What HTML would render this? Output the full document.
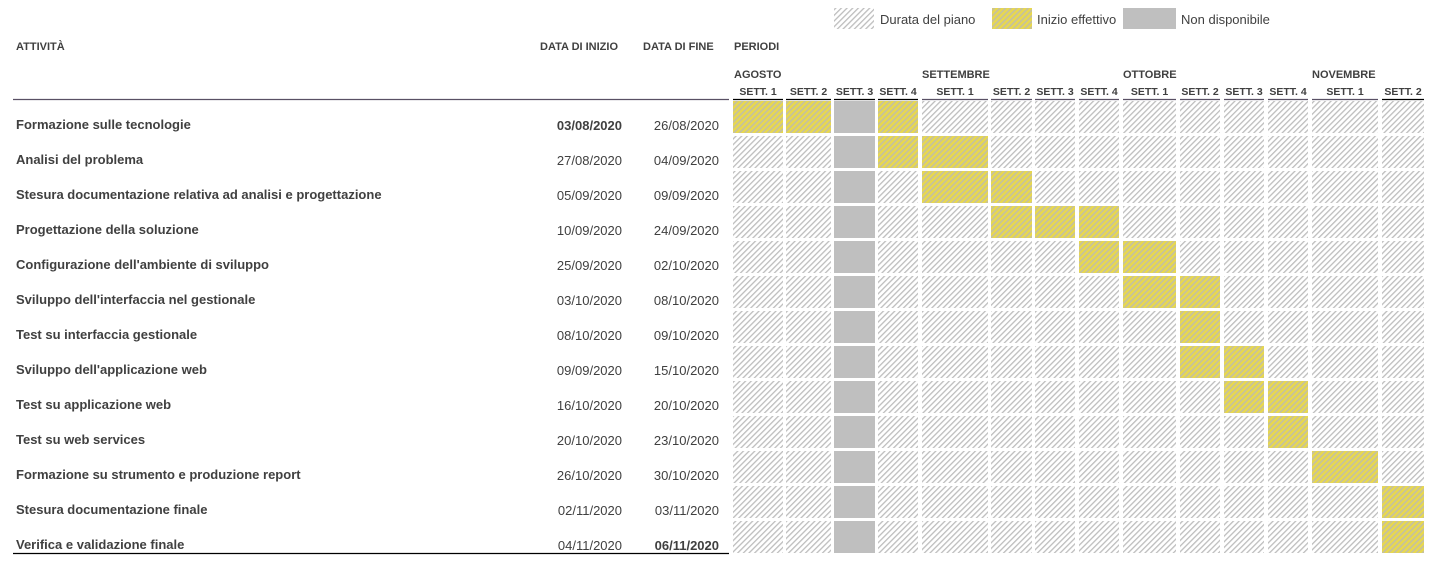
<!DOCTYPE html>
<html><head><meta charset="utf-8"><style>
body{margin:0;background:#fff;width:1432px;height:562px;overflow:hidden;font-family:"Liberation Sans",sans-serif;}
svg text{font-family:"Liberation Sans",sans-serif;fill:#404040;}
</style></head><body>
<svg id="g" width="1432" height="562" xmlns="http://www.w3.org/2000/svg">
<defs>
<pattern id="hatch" width="4" height="4" patternUnits="userSpaceOnUse" patternTransform="rotate(45)">
<rect width="4" height="4" fill="#fff"/><rect width="1.3" height="4" fill="#bdbdbd"/></pattern>
<pattern id="yel" width="4" height="4" patternUnits="userSpaceOnUse" patternTransform="rotate(45)">
<rect width="4" height="4" fill="#e8d84e"/><rect width="1.6" height="4" fill="#c4c0a0"/></pattern>
</defs>
<g>
<rect x="834" y="8" width="40" height="21" fill="url(#hatch)"/>
<text x="880" y="24" font-size="13">Durata del piano</text>
<rect x="992" y="8" width="40" height="21" fill="url(#yel)"/>
<text x="1037" y="24" font-size="13">Inizio effettivo</text>
<rect x="1123" y="8" width="53" height="21" fill="#bfbfbf"/>
<text x="1181" y="24" font-size="13">Non disponibile</text>
</g>
<g font-size="11" font-weight="bold">
<text x="16" y="50">ATTIVITÀ</text>
<text x="540" y="50">DATA DI INIZIO</text>
<text x="643" y="50">DATA DI FINE</text>
<text x="734" y="50">PERIODI</text>
<text x="734" y="78">AGOSTO</text>
<text x="922" y="78">SETTEMBRE</text>
<text x="1123" y="78">OTTOBRE</text>
<text x="1312" y="78">NOVEMBRE</text>
</g>
<line x1="13" y1="99.5" x2="729" y2="99.5" stroke="#595064" stroke-width="1.2"/>
<line x1="13" y1="553.5" x2="729" y2="553.5" stroke="#000" stroke-width="1.2"/>
<g id="grid"></g>
</svg>
<script>
const activities=["Formazione sulle tecnologie","Analisi del problema","Stesura documentazione relativa ad analisi e progettazione","Progettazione della soluzione","Configurazione dell'ambiente di sviluppo","Sviluppo dell'interfaccia nel gestionale","Test su interfaccia gestionale","Sviluppo dell'applicazione web","Test su applicazione web","Test su web services","Formazione su strumento e produzione report","Stesura documentazione finale","Verifica e validazione finale"];
const startDates=["03/08/2020","27/08/2020","05/09/2020","10/09/2020","25/09/2020","03/10/2020","08/10/2020","09/09/2020","16/10/2020","20/10/2020","26/10/2020","02/11/2020","04/11/2020"];
const endDates=["26/08/2020","04/09/2020","09/09/2020","24/09/2020","02/10/2020","08/10/2020","09/10/2020","15/10/2020","20/10/2020","23/10/2020","30/10/2020","03/11/2020","06/11/2020"];
const weekLabels=["SETT. 1","SETT. 2","SETT. 3","SETT. 4","SETT. 1","SETT. 2","SETT. 3","SETT. 4","SETT. 1","SETT. 2","SETT. 3","SETT. 4","SETT. 1","SETT. 2"];
const activeWeeks=[[0,1,3],[3,4],[4,5],[5,6,7],[7,8],[8,9],[9],[9,10],[10,11],[11],[12],[13],[13]];
const unavailableWeek=2;
const colX=[733,786,834,878,922,991,1035,1079,1123,1180,1224,1268,1312,1382];
const colW=[50,45,41,40,66,41,40,40,53,40,40,40,66,42];
const NS="http://www.w3.org/2000/svg";
const g=document.getElementById('grid');
function mk(t,a){const e=document.createElementNS(NS,t);for(const k in a)e.setAttribute(k,a[k]);g.appendChild(e);return e;}
const rowY=i=>101+35*i;
weekLabels.forEach((w,c)=>{
  const t=mk('text',{x:colX[c]+colW[c]/2,y:95,'font-size':10.5,'font-weight':'bold','text-anchor':'middle'});t.textContent=w;
  
  
  mk('line',{x1:colX[c],x2:colX[c]+colW[c],y1:99.5,y2:99.5,stroke:(c<4||c==13)?'#000':'#595064','stroke-width':1.3});
});
activities.forEach((a,i)=>{
  const y=rowY(i);
  const t=mk('text',{x:16,y:y+28,'font-size':13,'font-weight':'bold'});t.textContent=a;
  
  
  const s=mk('text',{x:622,y:y+29,'font-size':13,'text-anchor':'end','font-weight':i==0?'bold':'normal'});s.textContent=startDates[i];
  
  
  const e=mk('text',{x:719,y:y+29,'font-size':13,'text-anchor':'end','font-weight':i==12?'bold':'normal'});e.textContent=endDates[i];
  
  
  colX.forEach((x,c)=>{
    let f='url(#hatch)';
    if(c===unavailableWeek)f='#bfbfbf';
    else if(activeWeeks[i].includes(c))f='url(#yel)';
    const r=mk('rect',{x:x,y:y,width:colW[c],height:32,fill:f});
    
    
  });
});
</script>
</body></html>
